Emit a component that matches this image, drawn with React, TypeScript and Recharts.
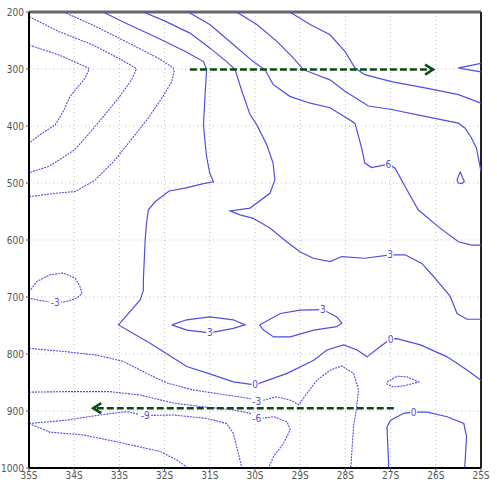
import { LineChart, Line, XAxis, YAxis, CartesianGrid, ReferenceLine } from 'recharts';

type Pt = [number, number]; // [latitude (negative = S), pressure hPa]

const latTicks = [-35, -34, -33, -32, -31, -30, -29, -28, -27, -26, -25];
const presTicks = [200, 300, 400, 500, 600, 700, 800, 900, 1000];

// solid contours (>= 0)
const c0: Pt[] = [[-33.36, 200], [-32.88, 219], [-32.14, 246], [-31.55, 269], [-31.14, 287], [-31.07, 301], [-31.1, 339], [-31.14, 398], [-31.1, 433], [-31.07, 454], [-31.0, 483], [-30.92, 498], [-31.14, 501], [-31.55, 509], [-31.9, 514], [-32.21, 533], [-32.36, 547], [-32.4, 571], [-32.43, 600], [-32.47, 670], [-32.47, 688], [-32.54, 705], [-33.02, 749], [-32.32, 781], [-31.51, 822], [-30.92, 837], [-30.48, 849], [-30.0, 854], [-29.29, 834], [-28.7, 811], [-28.41, 793], [-28.04, 784], [-27.74, 793], [-27.52, 805], [-27.23, 787], [-27.0, 774], [-26.86, 773], [-26.34, 784], [-25.75, 805], [-25.31, 828], [-25.0, 846]];
const c3: Pt[] = [[-32.47, 200], [-31.99, 216], [-31.44, 237], [-31.0, 263], [-30.63, 287], [-30.44, 301], [-30.29, 339], [-30.11, 380], [-29.96, 398], [-29.74, 433], [-29.6, 465], [-29.56, 495], [-29.67, 518], [-30.11, 544], [-30.55, 549], [-30.33, 556], [-30.04, 562], [-29.67, 579], [-29.3, 603], [-29.0, 621], [-28.71, 632], [-28.34, 638], [-28.08, 629], [-27.57, 632], [-27.01, 626], [-26.68, 626], [-26.31, 641], [-26.05, 664], [-25.68, 699], [-25.53, 729], [-25.31, 739], [-25.0, 739]];
const c6: Pt[] = [[-31.48, 200], [-31.0, 222], [-30.48, 257], [-30.04, 287], [-29.78, 301], [-29.6, 327], [-29.23, 348], [-28.78, 360], [-28.34, 368], [-27.79, 395], [-27.72, 415], [-27.64, 439], [-27.57, 465], [-27.42, 473], [-27.05, 467], [-26.9, 474], [-26.68, 506], [-26.39, 547], [-25.94, 577], [-25.5, 603], [-25.21, 609], [-25.0, 609]];
const c9: Pt[] = [[-30.41, 200], [-29.96, 222], [-29.52, 251], [-29.15, 281], [-28.93, 301], [-28.64, 310], [-28.34, 319], [-28.01, 339], [-27.49, 365], [-26.98, 371], [-26.24, 383], [-25.5, 395], [-25.35, 404], [-25.21, 421], [-25.1, 439], [-25.0, 480]];
const c12: Pt[] = [[-29.23, 200], [-28.78, 222], [-28.34, 240], [-28.01, 269], [-27.79, 298], [-27.57, 310], [-26.98, 322], [-26.24, 333], [-25.5, 345], [-25.0, 360]];
const edgeV: Pt[] = [[-25.0, 290], [-25.3, 295], [-25.5, 298], [-25.3, 301], [-25.0, 305]];
const drop: Pt[] = [[-25.46, 480], [-25.42, 488], [-25.37, 497], [-25.42, 501], [-25.5, 500], [-25.53, 495], [-25.5, 488], [-25.46, 480]];
const loopA: Pt[] = [[-31.84, 749], [-31.51, 740], [-31.0, 735], [-30.48, 740], [-30.22, 749], [-30.48, 755], [-31.0, 763], [-31.51, 758], [-31.84, 749]];
const loopB: Pt[] = [[-29.9, 749], [-29.44, 729], [-29.0, 723], [-28.5, 722], [-28.19, 735], [-28.08, 746], [-28.19, 752], [-28.7, 758], [-29.22, 770], [-29.59, 770], [-29.81, 758], [-29.9, 749]];
const zeroSE: Pt[] = [[-27.04, 1000], [-27.08, 928], [-27.0, 916], [-26.71, 904], [-26.49, 902], [-26.19, 902], [-25.75, 910], [-25.38, 922], [-25.32, 945], [-25.36, 1000]];

// dashed contours (< 0)
const n1: Pt[] = [[-35, 258], [-34.35, 275], [-33.69, 298], [-33.67, 301], [-33.76, 316], [-34.09, 348], [-34.24, 374], [-34.42, 398], [-34.75, 415], [-35, 430]];
const n2: Pt[] = [[-35, 208], [-34.35, 234], [-33.61, 257], [-33.02, 281], [-32.65, 298], [-32.63, 301], [-32.73, 319], [-33.02, 351], [-33.32, 380], [-33.69, 415], [-33.98, 441], [-34.3, 458], [-34.57, 471], [-35, 482]];
const n3: Pt[] = [[-34.24, 200], [-33.61, 222], [-32.88, 251], [-32.14, 281], [-31.81, 298], [-31.79, 304], [-31.84, 322], [-32.06, 351], [-32.36, 386], [-32.6, 410], [-32.8, 430], [-33.1, 460], [-33.54, 495], [-33.98, 515], [-34.42, 518], [-35, 524]];
const nLoopW: Pt[] = [[-35, 691], [-34.83, 673], [-34.54, 661], [-34.24, 658], [-33.98, 667], [-33.87, 682], [-33.83, 694], [-33.94, 702], [-34.17, 708], [-34.42, 710], [-34.76, 706], [-35, 702]];
const nLoopE: Pt[] = [[-27.08, 849], [-26.86, 839], [-26.64, 840], [-26.38, 849], [-26.71, 856], [-26.93, 858], [-27.08, 853], [-27.08, 849]];
const m3: Pt[] = [[-35, 790], [-34.17, 796], [-33.5, 802], [-32.91, 813], [-32.4, 834], [-31.95, 851], [-31.37, 863], [-30.63, 872], [-30.11, 878], [-29.96, 884], [-29.51, 875], [-29.22, 881], [-29.03, 889], [-28.85, 869], [-28.63, 846], [-28.33, 828], [-28.08, 821], [-27.82, 834], [-27.71, 863], [-27.75, 892], [-27.82, 928], [-27.85, 962], [-27.88, 1000]];
const m6: Pt[] = [[-35, 867], [-34.17, 866], [-33.21, 866], [-32.54, 872], [-31.81, 886], [-31.22, 892], [-30.48, 898], [-30.11, 904], [-29.96, 914], [-29.59, 910], [-29.29, 919], [-29.22, 933], [-29.37, 957], [-29.59, 980], [-29.7, 1000]];
const m9: Pt[] = [[-35, 922], [-34.17, 916], [-33.43, 907], [-32.84, 901], [-32.43, 908], [-31.81, 907], [-31.07, 913], [-30.63, 922], [-30.48, 939], [-30.37, 974], [-30.29, 1000]];
const m12: Pt[] = [[-35, 922], [-34.54, 937], [-33.8, 942], [-33.06, 954], [-32.1, 971], [-31.73, 986], [-31.48, 1000]];

const solidLines = [c0, c3, c6, c9, c12, edgeV, drop, loopA, loopB, zeroSE];
const dashedLines = [n1, n2, n3, nLoopW, nLoopE, m3, m6, m9, m12];

const contourLabels: { lat: number; p: number; text: string }[] = [
    { lat: -30.0, p: 854, text: '0' },
    { lat: -27.0, p: 774, text: '0' },
    { lat: -26.49, p: 902, text: '0' },
    { lat: -27.01, p: 626, text: '3' },
    { lat: -31.0, p: 763, text: '3' },
    { lat: -28.5, p: 722, text: '3' },
    { lat: -27.05, p: 467, text: '6' },
    { lat: -29.96, p: 884, text: '-3' },
    { lat: -29.96, p: 914, text: '-6' },
    { lat: -32.43, p: 908, text: '-9' },
    { lat: -34.42, p: 710, text: '-3' },
];

// arrows: [tail, tip]
const arrowUpper: Pt[] = [[-31.44, 301], [-26.06, 301]];
const arrowLower: Pt[] = [[-26.93, 895], [-33.58, 895]];

const toRows = (pts: Pt[]) => pts.map(([lat, p]) => ({ lat, p }));

const BLUE = '#4f4fe0';
const GREEN = '#0b4a10';
const tickStyle = { fontSize: 10, fill: '#555', fontFamily: "'Liberation Sans Narrow', 'DejaVu Sans Condensed', 'Liberation Sans', sans-serif" };

function arrowDot(arrow: Pt[]) {
    const dir = arrow[1][0] > arrow[0][0] ? 1 : -1;
    return (props: any) => {
        const { cx, cy, index } = props;
        if (index !== 1) return <g key={`a${index}`} />;
        return (
            <polyline
                key={`a${index}`}
                points={`${cx - dir * 8},${cy - 5} ${cx},${cy} ${cx - dir * 8},${cy + 5}`}
                fill="none"
                stroke={GREEN}
                strokeWidth={2.5}
            />
        );
    };
}

function labelDot(props: any) {
    const { cx, cy, index, payload } = props;
    const w = payload.text.length * 5 + 2;
    return (
        <g key={`l${index}`}>
            <rect x={cx - w / 2} y={cy - 5} width={w} height={10} fill="#fff" />
            <text x={cx} y={cy + 3.5} textAnchor="middle" fontSize={10} fill={BLUE} fontFamily="'DejaVu Sans Condensed', 'Liberation Sans Narrow', sans-serif">
                {payload.text}
            </text>
        </g>
    );
}

export default function App() {
    return (
        <div style={{ position: 'absolute', left: 0, top: 0, width: 497, height: 490, background: '#fff' }}>
            <LineChart width={497} height={490} margin={{ top: 12, right: 16, bottom: 0, left: 0 }}>
                <CartesianGrid strokeDasharray="1 3" stroke="#bdbdbd" />
                <XAxis
                    type="number"
                    dataKey="lat"
                    domain={[-35, -25]}
                    ticks={latTicks}
                    allowDataOverflow
                    height={22}
                    tickSize={3}
                    tickMargin={1}
                    tick={tickStyle}
                    tickFormatter={(v: number) => `${-v}S`}
                    axisLine={{ stroke: '#000', strokeWidth: 2 }}
                    tickLine={{ stroke: '#555' }}
                />
                <YAxis
                    type="number"
                    domain={[200, 1000]}
                    reversed
                    ticks={presTicks}
                    allowDataOverflow
                    width={29}
                    tickSize={3}
                    tickMargin={2}
                    tick={tickStyle}
                    axisLine={{ stroke: '#000', strokeWidth: 2 }}
                    tickLine={{ stroke: '#555' }}
                />
                <ReferenceLine y={200} stroke="#666" strokeWidth={3} />
                <ReferenceLine x={-25} stroke="#222" strokeWidth={2} />
                {solidLines.map((pts, i) => (
                    <Line
                        key={`s${i}`}
                        data={toRows(pts)}
                        dataKey="p"
                        type="linear"
                        stroke={BLUE}
                        strokeWidth={1.2}
                        dot={false}
                        activeDot={false}
                        isAnimationActive={false}
                    />
                ))}
                {dashedLines.map((pts, i) => (
                    <Line
                        key={`d${i}`}
                        data={toRows(pts)}
                        dataKey="p"
                        type="linear"
                        stroke={BLUE}
                        strokeWidth={1.1}
                        strokeDasharray="2 1"
                        dot={false}
                        activeDot={false}
                        isAnimationActive={false}
                    />
                ))}
                {[arrowUpper, arrowLower].map((arrow, i) => (
                    <Line
                        key={`arr${i}`}
                        data={toRows(arrow)}
                        dataKey="p"
                        type="linear"
                        stroke={GREEN}
                        strokeWidth={2.5}
                        strokeDasharray="7 3"
                        dot={arrowDot(arrow)}
                        activeDot={false}
                        isAnimationActive={false}
                    />
                ))}
                <Line
                    data={contourLabels}
                    dataKey="p"
                    stroke="none"
                    dot={labelDot}
                    activeDot={false}
                    isAnimationActive={false}
                />
            </LineChart>
        </div>
    );
}
